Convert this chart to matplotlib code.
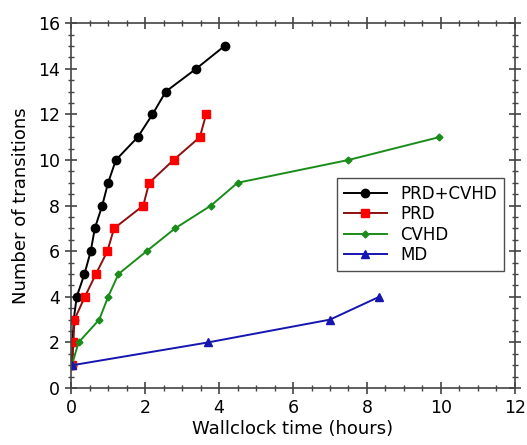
#!/usr/bin/env python3
"""Transitions found vs wallclock time for the four sampling schemes."""

import matplotlib
matplotlib.use("Agg")
import matplotlib.pyplot as plt
from matplotlib.ticker import MultipleLocator

# PRD+CVHD
prd_cvhd_t = [0.02, 0.04, 0.07, 0.15, 0.36, 0.53, 0.64, 0.84, 1.0, 1.21,
              1.80, 2.20, 2.56, 3.38, 4.15]
prd_cvhd_n = [1, 2, 3, 4, 5, 6, 7, 8, 9, 10, 11, 12, 13, 14, 15]

# PRD
prd_t = [0.03, 0.06, 0.09, 0.37, 0.67, 0.98, 1.16, 1.95, 2.11, 2.77,
         3.48, 3.65]
prd_n = [1, 2, 3, 4, 5, 6, 7, 8, 9, 10, 11, 12]

# CVHD
cvhd_t = [0.02, 0.2, 0.76, 1.0, 1.28, 2.04, 2.81, 3.78, 4.5, 7.5, 9.95]
cvhd_n = [1, 2, 3, 4, 5, 6, 7, 8, 9, 10, 11]

# MD
md_t = [0.03, 3.7, 7.0, 8.33]
md_n = [1, 2, 3, 4]

fig = plt.figure(figsize=(5.27, 4.45), dpi=100)
ax = fig.add_axes([0.135, 0.128, 0.842, 0.82])

ax.plot(prd_cvhd_t, prd_cvhd_n, color="black", marker="o", markersize=6,
        linewidth=1.4, label="PRD+CVHD")
ax.plot(prd_t, prd_n, color="#8b1010", marker="s", markersize=6,
        markerfacecolor="#ff0000", markeredgecolor="#ff0000",
        linewidth=1.4, label="PRD")
ax.plot(cvhd_t, cvhd_n, color="#1a8c1a", marker="D", markersize=3.5,
        linewidth=1.4, label="CVHD")
ax.plot(md_t, md_n, color="#1515b0", marker="^", markersize=5.5,
        linewidth=1.4, label="MD")

ax.set_xlim(0, 12)
ax.set_ylim(0, 16)
ax.xaxis.set_major_locator(MultipleLocator(2))
ax.xaxis.set_minor_locator(MultipleLocator(0.5))
ax.yaxis.set_major_locator(MultipleLocator(2))
ax.yaxis.set_minor_locator(MultipleLocator(0.5))
ax.tick_params(which="both", direction="inout", top=True, right=True,
               labelsize=12.5, color="#444444")
ax.tick_params(which="major", length=9, width=1.2)
ax.tick_params(which="minor", length=5, width=1.0)
for spine in ax.spines.values():
    spine.set_color("#444444")
    spine.set_linewidth(1.2)

ax.set_xlabel("Wallclock time (hours)", fontsize=13, labelpad=2)
ax.set_ylabel("Number of transitions", fontsize=13, labelpad=6)

leg = ax.legend(loc="center right", bbox_to_anchor=(0.975, 0.448),
                borderaxespad=0, fontsize=12, frameon=True, fancybox=False,
                borderpad=0.4, handlelength=2.6, labelspacing=0.15)
leg.get_frame().set_edgecolor("#222222")
leg.get_frame().set_linewidth(1.0)

fig.savefig("out.png", dpi=100)
